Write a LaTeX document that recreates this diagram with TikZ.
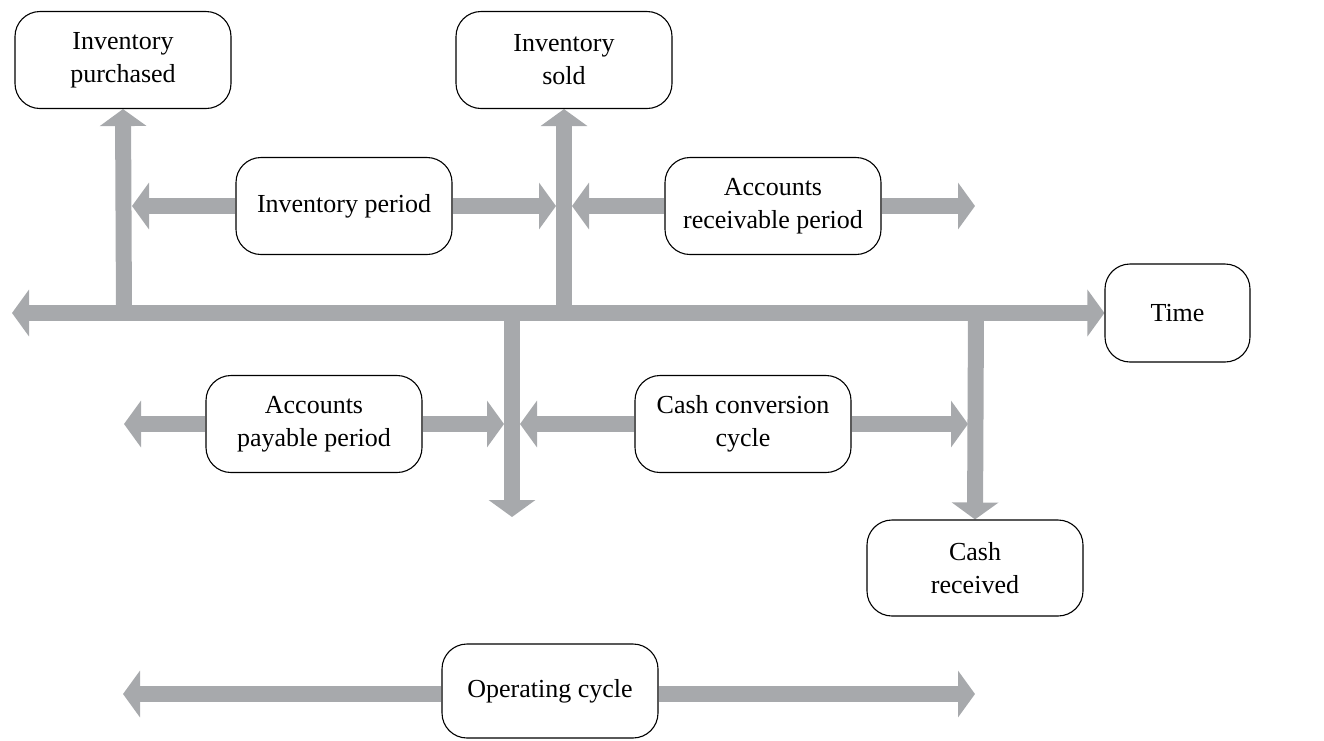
\documentclass[tikz,border=0pt]{standalone}
\usepackage{fontspec}
\setmainfont{Liberation Serif}
\usetikzlibrary{arrows.meta}
\definecolor{arrowgray}{HTML}{A7A9AC}
\pgfdeclarelayer{background}
\pgfsetlayers{background,main}
\tikzset{
  garrow/.style={draw=arrowgray, line width=16pt, -{Triangle[width=46pt,length=17pt]}},
  gboth/.style={draw=arrowgray, line width=16pt, {Triangle[width=46pt,length=17pt]}-{Triangle[width=46pt,length=17pt]}},
  box/.style={draw=black, line width=1.1pt, fill=white, rounded corners=25pt,
    minimum width=216pt, minimum height=97pt, align=center,
    font=\fontsize{26}{33}\selectfont, inner sep=0pt},
}
\begin{document}
\begin{tikzpicture}[x=1pt,y=-1pt]
\useasboundingbox (0,0) rectangle (1324,740);
% nodes
\node[box] (ip) at (123,60) {Inventory\\purchased};
\node[box] (is) at (564,60) {Inventory\\sold};
\node[box] (invp) at (344,206) {Inventory period};
\node[box] (arp) at (773,206) {Accounts\\receivable period};
\node[box, minimum width=145pt, minimum height=98pt] (time) at (1177.5,313) {Time};
\node[box] (app) at (314,424) {Accounts\\payable period};
\node[box] (ccc) at (743,424) {Cash conversion\\cycle};
\node[box, minimum height=96pt] (cr) at (975,568) {Cash\\received};
\node[box, minimum height=94pt] (oc) at (550,691) {Operating cycle};
% coordinates
\coordinate (axL) at (12,313);
\coordinate (j1) at (124,313);
\coordinate (j2) at (564,313);
\coordinate (j3) at (512,313);
\coordinate (j4) at (976,313);
\coordinate (d3) at (512,517);
\coordinate (invL) at (132,206);
\coordinate (invR) at (556,206);
\coordinate (arL) at (572,206);
\coordinate (arR) at (975,206);
\coordinate (apL) at (124,424);
\coordinate (apR) at (504,424);
\coordinate (cL) at (520,424);
\coordinate (cR) at (968,424);
\coordinate (ocL) at (123,694);
\coordinate (ocR) at (975,694);
% arrows behind the boxes
\begin{pgfonlayer}{background}
\draw[gboth] (axL) -- (time.west);
\draw[garrow] (j1) -- (ip.south);
\draw[garrow] (j2) -- (is.south);
\draw[garrow] (j3) -- (d3);
\draw[garrow] (j4) -- (cr.north);
\draw[garrow] (invp.west) -- (invL);
\draw[garrow] (invp.east) -- (invR);
\draw[garrow] (arp.west) -- (arL);
\draw[garrow] (arp.east) -- (arR);
\draw[garrow] (app.west) -- (apL);
\draw[garrow] (app.east) -- (apR);
\draw[garrow] (ccc.west) -- (cL);
\draw[garrow] (ccc.east) -- (cR);
\draw[garrow] (oc.west |- ocL) -- (ocL);
\draw[garrow] (oc.east |- ocR) -- (ocR);
\end{pgfonlayer}
\end{tikzpicture}
\end{document}
